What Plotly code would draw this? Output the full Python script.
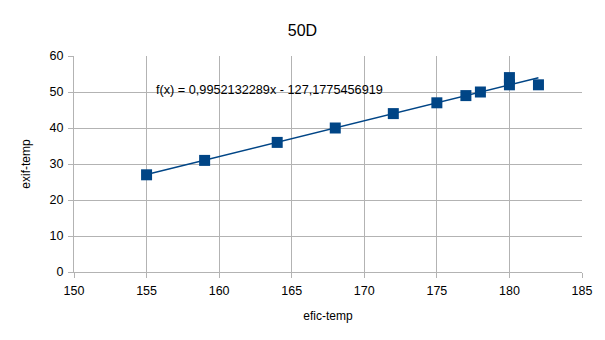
import numpy as np
import plotly.graph_objects as go

# Measurements: efic-temp vs exif-temp
efic_temp = [155, 159, 164, 168, 172, 175, 177, 178, 180, 180, 182]
exif_temp = [27, 31, 36, 40, 44, 47, 49, 50, 52, 54, 52]

x_ticks = [150, 155, 160, 165, 170, 175, 180, 185]
y_ticks = [0, 10, 20, 30, 40, 50, 60]

# Linear regression trendline
slope, intercept = np.polyfit(efic_temp, exif_temp, 1)
x_fit = [min(efic_temp), max(efic_temp)]
y_fit = [slope * v + intercept for v in x_fit]


def fmt(v):
    return f"{v:.10f}".replace(".", ",")


sign = "-" if intercept < 0 else "+"
eq_text = f"f(x) = {fmt(slope)}x {sign} {fmt(abs(intercept))}"

blue = "#004586"
grid = "#b3b3b3"
font = "Liberation Sans, Arial, sans-serif"

fig = go.Figure()
fig.add_trace(go.Scatter(
    x=efic_temp, y=exif_temp, mode="markers",
    marker=dict(symbol="square", size=11, color=blue),
    showlegend=False,
))
fig.add_trace(go.Scatter(
    x=x_fit, y=y_fit, mode="lines",
    line=dict(color=blue, width=1.5),
    showlegend=False,
))

fig.add_annotation(
    x=155.5, y=50.6, xref="x", yref="y", text=eq_text, showarrow=False,
    xanchor="left", yanchor="middle", font=dict(family=font, size=12.7, color="#000000"),
)

fig.update_layout(
    width=605, height=340,
    margin=dict(l=74.3, r=23, t=56, b=68),
    paper_bgcolor="white", plot_bgcolor="white",
    font=dict(family=font, size=12, color="#000000"),
    title=dict(text="50D", x=0.5, xanchor="center", y=1 - 30 / 340, yanchor="middle",
               font=dict(family=font, size=16, color="#000000")),
    xaxis=dict(
        range=[150, 185], tickvals=x_ticks, ticks="outside", ticklen=5, tickcolor=grid,
        showgrid=True, gridcolor=grid, gridwidth=1, showline=True, linecolor=grid,
        zeroline=False, title=dict(text="efic-temp", standoff=14, font=dict(size=12)),
        tickfont=dict(size=12.5), ticklabelstandoff=2,
    ),
    yaxis=dict(
        range=[0, 60], tickvals=y_ticks, ticks="outside", ticklen=5, tickcolor=grid,
        showgrid=True, gridcolor=grid, gridwidth=1, showline=True, linecolor=grid,
        zeroline=False, title=dict(text="exif-temp", standoff=16, font=dict(size=12)),
        tickfont=dict(size=12.5), ticklabelstandoff=2,
    ),
)

fig.write_html("out.html")
